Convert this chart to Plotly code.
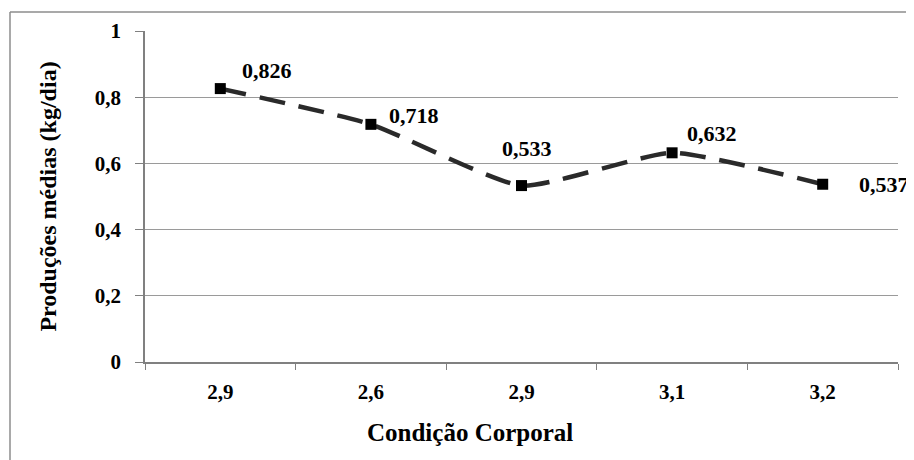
import plotly.graph_objects as go

categories = ["2,9", "2,6", "2,9", "3,1", "3,2"]
values = [0.826, 0.718, 0.533, 0.632, 0.537]
labels = ["0,826", "0,718", "0,533", "0,632", "0,537"]
y_ticks = [0, 0.2, 0.4, 0.6, 0.8, 1]
y_ticktext = ["0", "0,2", "0,4", "0,6", "0,8", "1"]
label_shift = [(47, 18), (43, 9), (5, 37), (40, 19), (61, 0)]

FONT = "Liberation Serif, Times New Roman, serif"
keys = [str(i) for i in range(len(categories))]

fig = go.Figure()
fig.add_trace(go.Scatter(
    x=keys, y=values, mode="lines+markers",
    line=dict(color="#2a2a2a", width=4.5, dash="26px,14px", shape="spline", smoothing=0.5),
    marker=dict(symbol="square", size=11, color="#000000"),
    showlegend=False, hoverinfo="skip"))

for k, v, t, (dx, dy) in zip(keys, values, labels, label_shift):
    fig.add_annotation(x=k, y=v, text="<b>%s</b>" % t, showarrow=False, xshift=dx, yshift=dy,
                       font=dict(family=FONT, size=22, color="#000000"))

# x-axis title placed as in the reference (left of the plot centre)
fig.add_annotation(xref="paper", yref="paper", x=(470 - 145) / 753, y=(362 - 432) / 331,
                   text="<b>Condição Corporal</b>", showarrow=False,
                   xanchor="center", yanchor="middle",
                   font=dict(family=FONT, size=25, color="#000000"))

# page body has an 8px margin: figure is offset by (8, 8)
fig.update_layout(
    width=906, height=452,
    margin=dict(l=137, r=16, t=23, b=98),
    paper_bgcolor="white", plot_bgcolor="white",
    font=dict(family=FONT, color="#000000"),
    xaxis=dict(
        type="category", categoryorder="array", categoryarray=keys,
        range=[-0.5, 4.5], tickmode="array", tickvals=keys,
        ticktext=["<b>%s</b>" % c for c in categories],
        tickson="boundaries", ticks="outside", ticklen=6, tickcolor="#808080",
        showline=True, linecolor="#808080", linewidth=1.5, showgrid=False,
        ticklabelstandoff=10, automargin=False,
        tickfont=dict(family=FONT, size=21, color="#000000"),
        zeroline=False,
    ),
    yaxis=dict(
        range=[0, 1], tickmode="array", tickvals=y_ticks,
        ticktext=["<b>%s</b>" % s for s in y_ticktext],
        ticks="outside", ticklen=8, tickcolor="#808080",
        showline=True, linecolor="#808080", linewidth=1.5,
        showgrid=True, gridcolor="#9a9a9a", gridwidth=1.2,
        automargin=False, ticklabelstandoff=10,
        tickfont=dict(family=FONT, size=21, color="#000000"),
        title=dict(text="<b>Produções médias (kg/dia)</b>", font=dict(family=FONT, size=24), standoff=31),
        zeroline=False,
    ),
)

# outer frame (left and top edges visible)
fx = (10 - 145) / 753
fy = (362 - 12) / 331
fig.add_shape(type="line", xref="paper", yref="paper", x0=fx, x1=fx, y0=-0.4, y1=fy,
              line=dict(color="#8c8c8c", width=1.5), layer="below")
fig.add_shape(type="line", xref="paper", yref="paper", x0=fx, x1=1.05, y0=fy, y1=fy,
              line=dict(color="#8c8c8c", width=1.5), layer="below")

fig.write_html("out.html")
